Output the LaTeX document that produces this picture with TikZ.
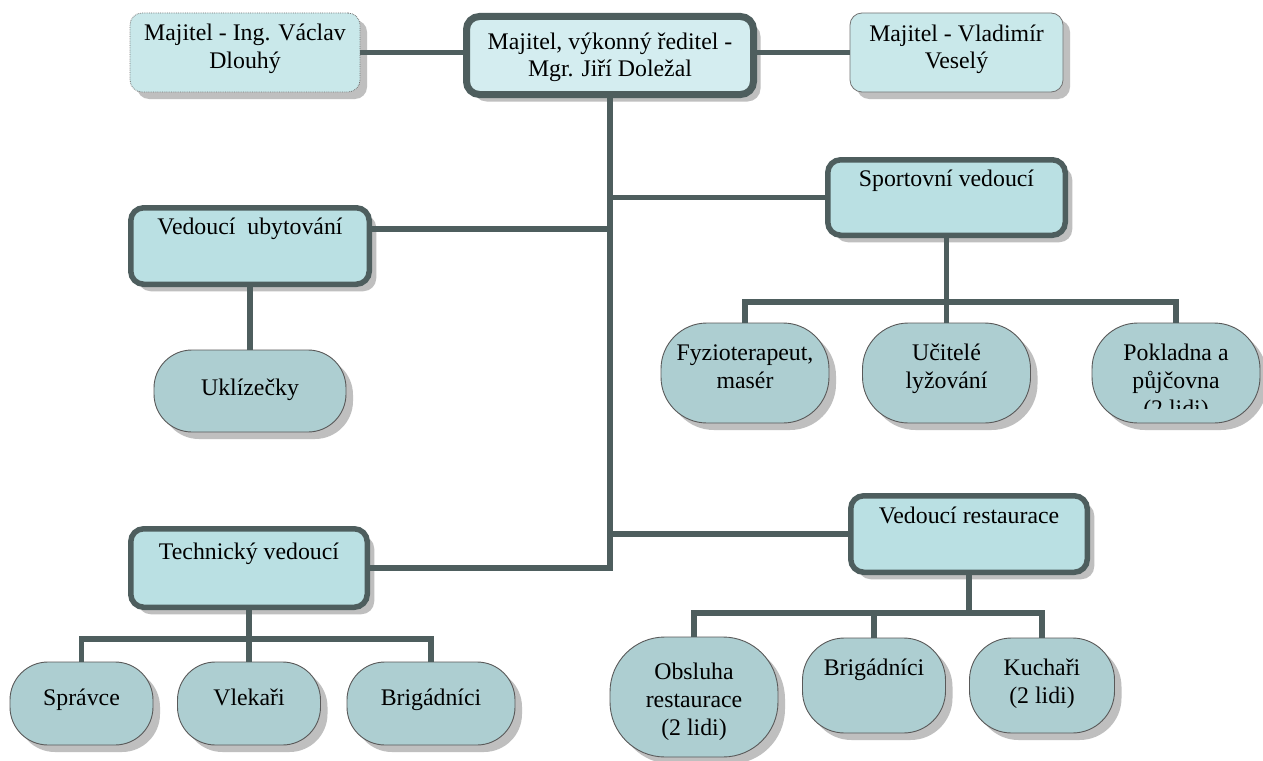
\documentclass[tikz,border=0pt]{standalone}
\usepackage{fontspec}
\setmainfont{Liberation Serif}
\usetikzlibrary{shadows}
\definecolor{lineC}{HTML}{4E5E5E}
\definecolor{deptF}{HTML}{BAE0E3}
\definecolor{ownF}{HTML}{C9E8EA}
\definecolor{ceoF}{HTML}{D4EDF0}
\definecolor{ovalF}{HTML}{ADCED1}
\definecolor{shadowC}{HTML}{BFBFBF}
\begin{document}
\begin{tikzpicture}[x=1pt,y=-1pt,
  shd/.style={drop shadow={shadow xshift=7pt,shadow yshift=-7pt,fill=shadowC,opacity=1}},
  own/.style={draw=black!55, line width=0.8pt, fill=ownF, rounded corners=12pt, inner sep=0pt, shd},
  ceobox/.style={draw=lineC, line width=7pt, fill=ceoF, rounded corners=13pt, inner sep=0pt, shd},
  dept/.style={draw=lineC, line width=5.5pt, fill=deptF, rounded corners=13pt, inner sep=0pt, shd},
  oval/.style={draw=black!65, line width=0.9pt, fill=ovalF, inner sep=0pt, shd},
  ln/.style={draw=lineC, line width=5.5pt},
  txt/.style={anchor=base, align=center, inner sep=0pt, font=\fontsize{23.8}{28}\selectfont}
]
\fill[white] (0,0) rectangle (1263,760);
\useasboundingbox (0,0) rectangle (1263,760);

% top row
\node[own, densely dotted, minimum width=230pt, minimum height=79pt] (ownA) at (245,52.5) {};
\node[ceobox, minimum width=287pt, minimum height=78pt] (ceo) at (610,55.5) {};
\node[own, minimum width=213pt, minimum height=79pt] (ownB) at (956.5,52.5) {};

% departments
\node[dept, minimum width=237.5pt, minimum height=75.5pt] (sport) at (946.5,197.5) {};
\node[dept, minimum width=238.5pt, minimum height=76.5pt] (ubyt) at (250,246) {};
\node[dept, minimum width=236.5pt, minimum height=76.5pt] (rest) at (969,534) {};
\node[dept, minimum width=236.5pt, minimum height=78.5pt] (tech) at (249,568) {};

% ovals
\node[oval, rounded corners=38pt, minimum width=192pt, minimum height=82pt] (uklid) at (250,391) {};
\node[oval, rounded corners=46pt, minimum width=168pt, minimum height=100pt] (fyz) at (745,373) {};
\node[oval, rounded corners=46pt, minimum width=168pt, minimum height=100pt] (uci) at (946.5,373) {};
\node[oval, rounded corners=46pt, minimum width=168pt, minimum height=100pt] (pok) at (1176,373) {};
\node[oval, rounded corners=38pt, minimum width=143pt, minimum height=83pt] (spr) at (81.5,703.5) {};
\node[oval, rounded corners=38pt, minimum width=143pt, minimum height=83pt] (vlek) at (249,703.5) {};
\node[oval, rounded corners=38pt, minimum width=168pt, minimum height=83pt] (brigA) at (431,703.5) {};
\node[oval, rounded corners=55pt, minimum width=168pt, minimum height=120pt] (obs) at (694,697) {};
\node[oval, rounded corners=42pt, minimum width=143pt, minimum height=95pt] (brigB) at (874,685.5) {};
\node[oval, rounded corners=42pt, minimum width=145pt, minimum height=95pt] (kuch) at (1042,685.5) {};

% connectors
\draw[ln] (ownA.east) -- (ownA.east -| ceo.west);
\draw[ln] (ceo.east |- ownB.west) -- (ownB.west);
\draw[ln] (ceo.south) |- (tech.east);
\coordinate (jS) at (610,197.5);
\coordinate (jU) at (610,229);
\coordinate (jR) at (610,534);
\draw[ln] (jS) -- (sport.west);
\draw[ln] (jU) -- (jU -| ubyt.east);
\draw[ln] (jR) -- (rest.west);
\draw[ln] (ubyt.south) -- (uklid.north);
\coordinate (sB) at (946.5,302);
\draw[ln] (sport.south) -- (sB);
\draw[ln] (fyz.north) |- (sB) -| (pok.north);
\draw[ln] (sB) -- (uci.north);
\coordinate (tB) at (249,639);
\draw[ln] (tech.south) -- (tB);
\draw[ln] (spr.north) |- (tB) -| (brigA.north);
\draw[ln] (tB) -- (vlek.north);
\coordinate (rB) at (969,613);
\draw[ln] (rest.south) -- (rB);
\draw[ln] (obs.north) |- (rB) -| (kuch.north);
\draw[ln] (brigB.north) -- (brigB.north |- rB);

% texts (anchor=base is the baseline of the last line)
\node[txt] (ownAt) at (245,68) {Majitel - Ing. Václav\\Dlouhý};
\node[txt] (ceot) at (610,77) {Majitel, výkonný ředitel -\\Mgr. Jiří Doležal};
\node[txt] (ownBt) at (956.5,69) {Majitel - Vladimír\\Veselý};
\node[txt] (sportt) at (946.5,186) {Sportovní vedoucí};
\node[txt] (ubytt) at (250,234) {Vedoucí~ ubytování};
\node[txt] (restt) at (969,523) {Vedoucí restaurace};
\node[txt] (techt) at (249,559) {Technický vedoucí};
\node[txt] (uklidt) at (250,395) {Uklízečky};
\node[txt] (fyzt) at (745,388) {Fyzioterapeut,\\masér};
\node[txt] (ucit) at (946.5,388) {Učitelé\\lyžování};
\begin{scope}
\clip (1090,320) rectangle (1263,408);
\node[txt] (pokt) at (1176,416) {Pokladna a\\půjčovna\\(2 lidi)};
\end{scope}
\node[txt] (sprt) at (81.5,705) {Správce};
\node[txt] (vlekt) at (249,705) {Vlekaři};
\node[txt] (brigAt) at (431,705) {Brigádníci};
\node[txt] (obst) at (694,735) {Obsluha\\restaurace\\(2 lidi)};
\node[txt] (brigBt) at (874,675) {Brigádníci};
\node[txt] (kucht) at (1042,703) {Kuchaři\\(2 lidi)};
\end{tikzpicture}
\end{document}
